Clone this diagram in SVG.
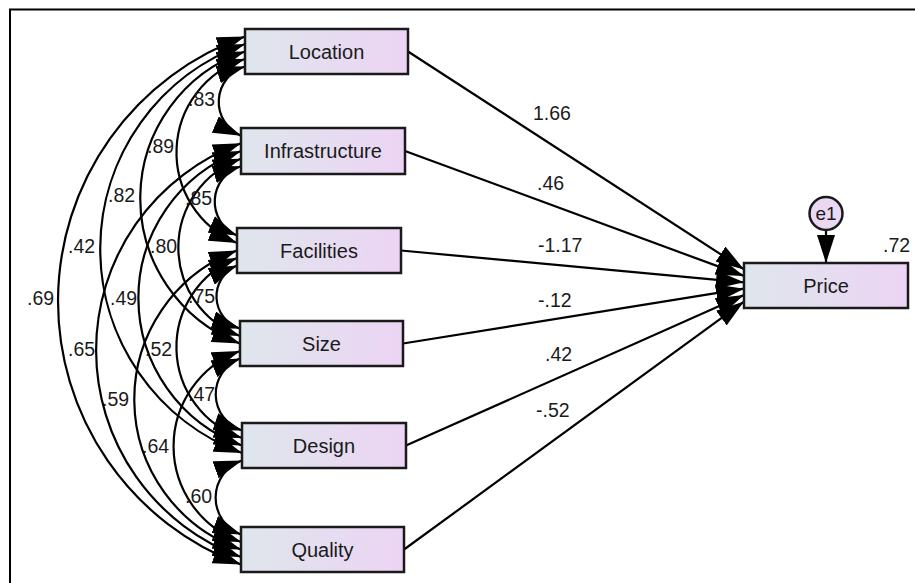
<svg xmlns="http://www.w3.org/2000/svg" width="915" height="583" viewBox="0 0 915 583">
  <style>
    .box { stroke: #1a1a1a; stroke-width: 2.5; fill: url(#boxFill); }
    .lbl { font-family: "Liberation Sans", Arial, sans-serif; font-size: 20px; fill: #1a1a1a; text-anchor: middle; }
    .num { font-family: "Liberation Sans", Arial, sans-serif; font-size: 19.5px; fill: #1a1a1a; }
    .cov { fill: none; stroke: #000; stroke-width: 2.2; marker-start: url(#head); marker-end: url(#head); }
    .reg { fill: none; stroke: #000; stroke-width: 2.2; marker-end: url(#head); }
  </style>
  <defs>
    <linearGradient id="boxFill" x1="0" y1="0" x2="1" y2="0">
      <stop offset="0" stop-color="#dfe6ec"/>
      <stop offset="1" stop-color="#ecd4f4"/>
    </linearGradient>
    <marker id="head" viewBox="0 0 28 18" refX="28" refY="9" markerWidth="28" markerHeight="18" markerUnits="userSpaceOnUse" orient="auto-start-reverse">
      <path d="M0,0 L28,9 L0,18 z" fill="#000"/>
    </marker>
  </defs>

  <rect width="915" height="583" fill="#fff"/>
  <!-- frame -->
  <path d="M10,583 V9.5 H915" fill="none" stroke="#000" stroke-width="2"/>

  <g id="connectors">
    <!-- covariances between the exogenous variables -->
    <path class="cov" d="M245,66.5 A36.9,36.9 0 0 0 241,135.7"/>
    <path class="cov" d="M245,59 A98,98 0 0 0 237,243"/>
    <path class="cov" d="M245,51.5 A155.4,155.4 0 0 0 240,343.5"/>
    <path class="cov" d="M245,44 A217.6,217.6 0 0 0 242,453"/>
    <path class="cov" d="M245,36.5 A280.9,280.9 0 0 0 241,564.5"/>
    <path class="cov" d="M241,166.3 A36.9,36.9 0 0 0 237,235.5"/>
    <path class="cov" d="M241,158.7 A94.3,94.3 0 0 0 240,336"/>
    <path class="cov" d="M241,151 A156.7,156.7 0 0 0 242,445.5"/>
    <path class="cov" d="M241,143.3 A220.1,220.1 0 0 0 241,557"/>
    <path class="cov" d="M237,265.5 A33.6,33.6 0 0 0 240,328.5"/>
    <path class="cov" d="M237,258 A95.8,95.8 0 0 0 242,438"/>
    <path class="cov" d="M237,250.5 A159.1,159.1 0 0 0 241,549.5"/>
    <path class="cov" d="M240,358.5 A38.3,38.3 0 0 0 242,430.5"/>
    <path class="cov" d="M240,351 A101.6,101.6 0 0 0 241,542"/>
    <path class="cov" d="M242,460.5 A39.4,39.4 0 0 0 241,534.5"/>

    <!-- regression paths into Price -->
    <path class="reg" d="M408,51.5 L744,269.4"/>
    <path class="reg" d="M405,151 L744,275.9"/>
    <path class="reg" d="M401,250.5 L744,282.3"/>
    <path class="reg" d="M403,343.5 L744,288.7"/>
    <path class="reg" d="M406,445.5 L744,295.1"/>
    <path class="reg" d="M404,549.5 L744,301.6"/>

    <!-- error term -->
    <path class="reg" d="M826,230 L826,263"/>

    <!-- covariance estimates -->
    <text class="num" x="188" y="106">.83</text>
    <text class="num" x="147" y="153">.89</text>
    <text class="num" x="108" y="202">.82</text>
    <text class="num" x="68" y="253">.42</text>
    <text class="num" x="27" y="305">.69</text>
    <text class="num" x="185" y="205">.85</text>
    <text class="num" x="150" y="253">.80</text>
    <text class="num" x="110" y="305">.49</text>
    <text class="num" x="68" y="356">.65</text>
    <text class="num" x="188" y="303">.75</text>
    <text class="num" x="145" y="356">.52</text>
    <text class="num" x="102" y="406">.59</text>
    <text class="num" x="188" y="401">.47</text>
    <text class="num" x="142" y="453">.64</text>
    <text class="num" x="185" y="503">.60</text>

    <!-- regression weights -->
    <text class="num" x="533" y="120">1.66</text>
    <text class="num" x="537" y="190">.46</text>
    <text class="num" x="538" y="252">-1.17</text>
    <text class="num" x="538" y="307">-.12</text>
    <text class="num" x="545" y="361">.42</text>
    <text class="num" x="536" y="417">-.52</text>
  </g>

  <g id="location">
    <rect class="box" x="245" y="29" width="163" height="45"/>
    <text class="lbl" x="326.5" y="58.5">Location</text>
  </g>
  <g id="infrastructure">
    <rect class="box" x="241" y="128" width="164" height="46"/>
    <text class="lbl" x="323" y="158">Infrastructure</text>
  </g>
  <g id="facilities">
    <rect class="box" x="237" y="228" width="164" height="45"/>
    <text class="lbl" x="319" y="257.5">Facilities</text>
  </g>
  <g id="size">
    <rect class="box" x="240" y="321" width="163" height="45"/>
    <text class="lbl" x="321.5" y="350.5">Size</text>
  </g>
  <g id="design">
    <rect class="box" x="242" y="423" width="164" height="45"/>
    <text class="lbl" x="324" y="452.5">Design</text>
  </g>
  <g id="quality">
    <rect class="box" x="241" y="527" width="163" height="45"/>
    <text class="lbl" x="322.5" y="556.5">Quality</text>
  </g>
  <g id="price">
    <rect class="box" x="744" y="263" width="164" height="45"/>
    <text class="lbl" x="826" y="292.5">Price</text>
    <text class="num" x="883" y="252">.72</text>
  </g>
  <g id="e1">
    <circle cx="826" cy="213.5" r="16.5" fill="#ead8f2" stroke="#1a1a1a" stroke-width="2.5"/>
    <text class="lbl" x="826" y="220" style="font-size:19px">e1</text>
  </g>
</svg>
